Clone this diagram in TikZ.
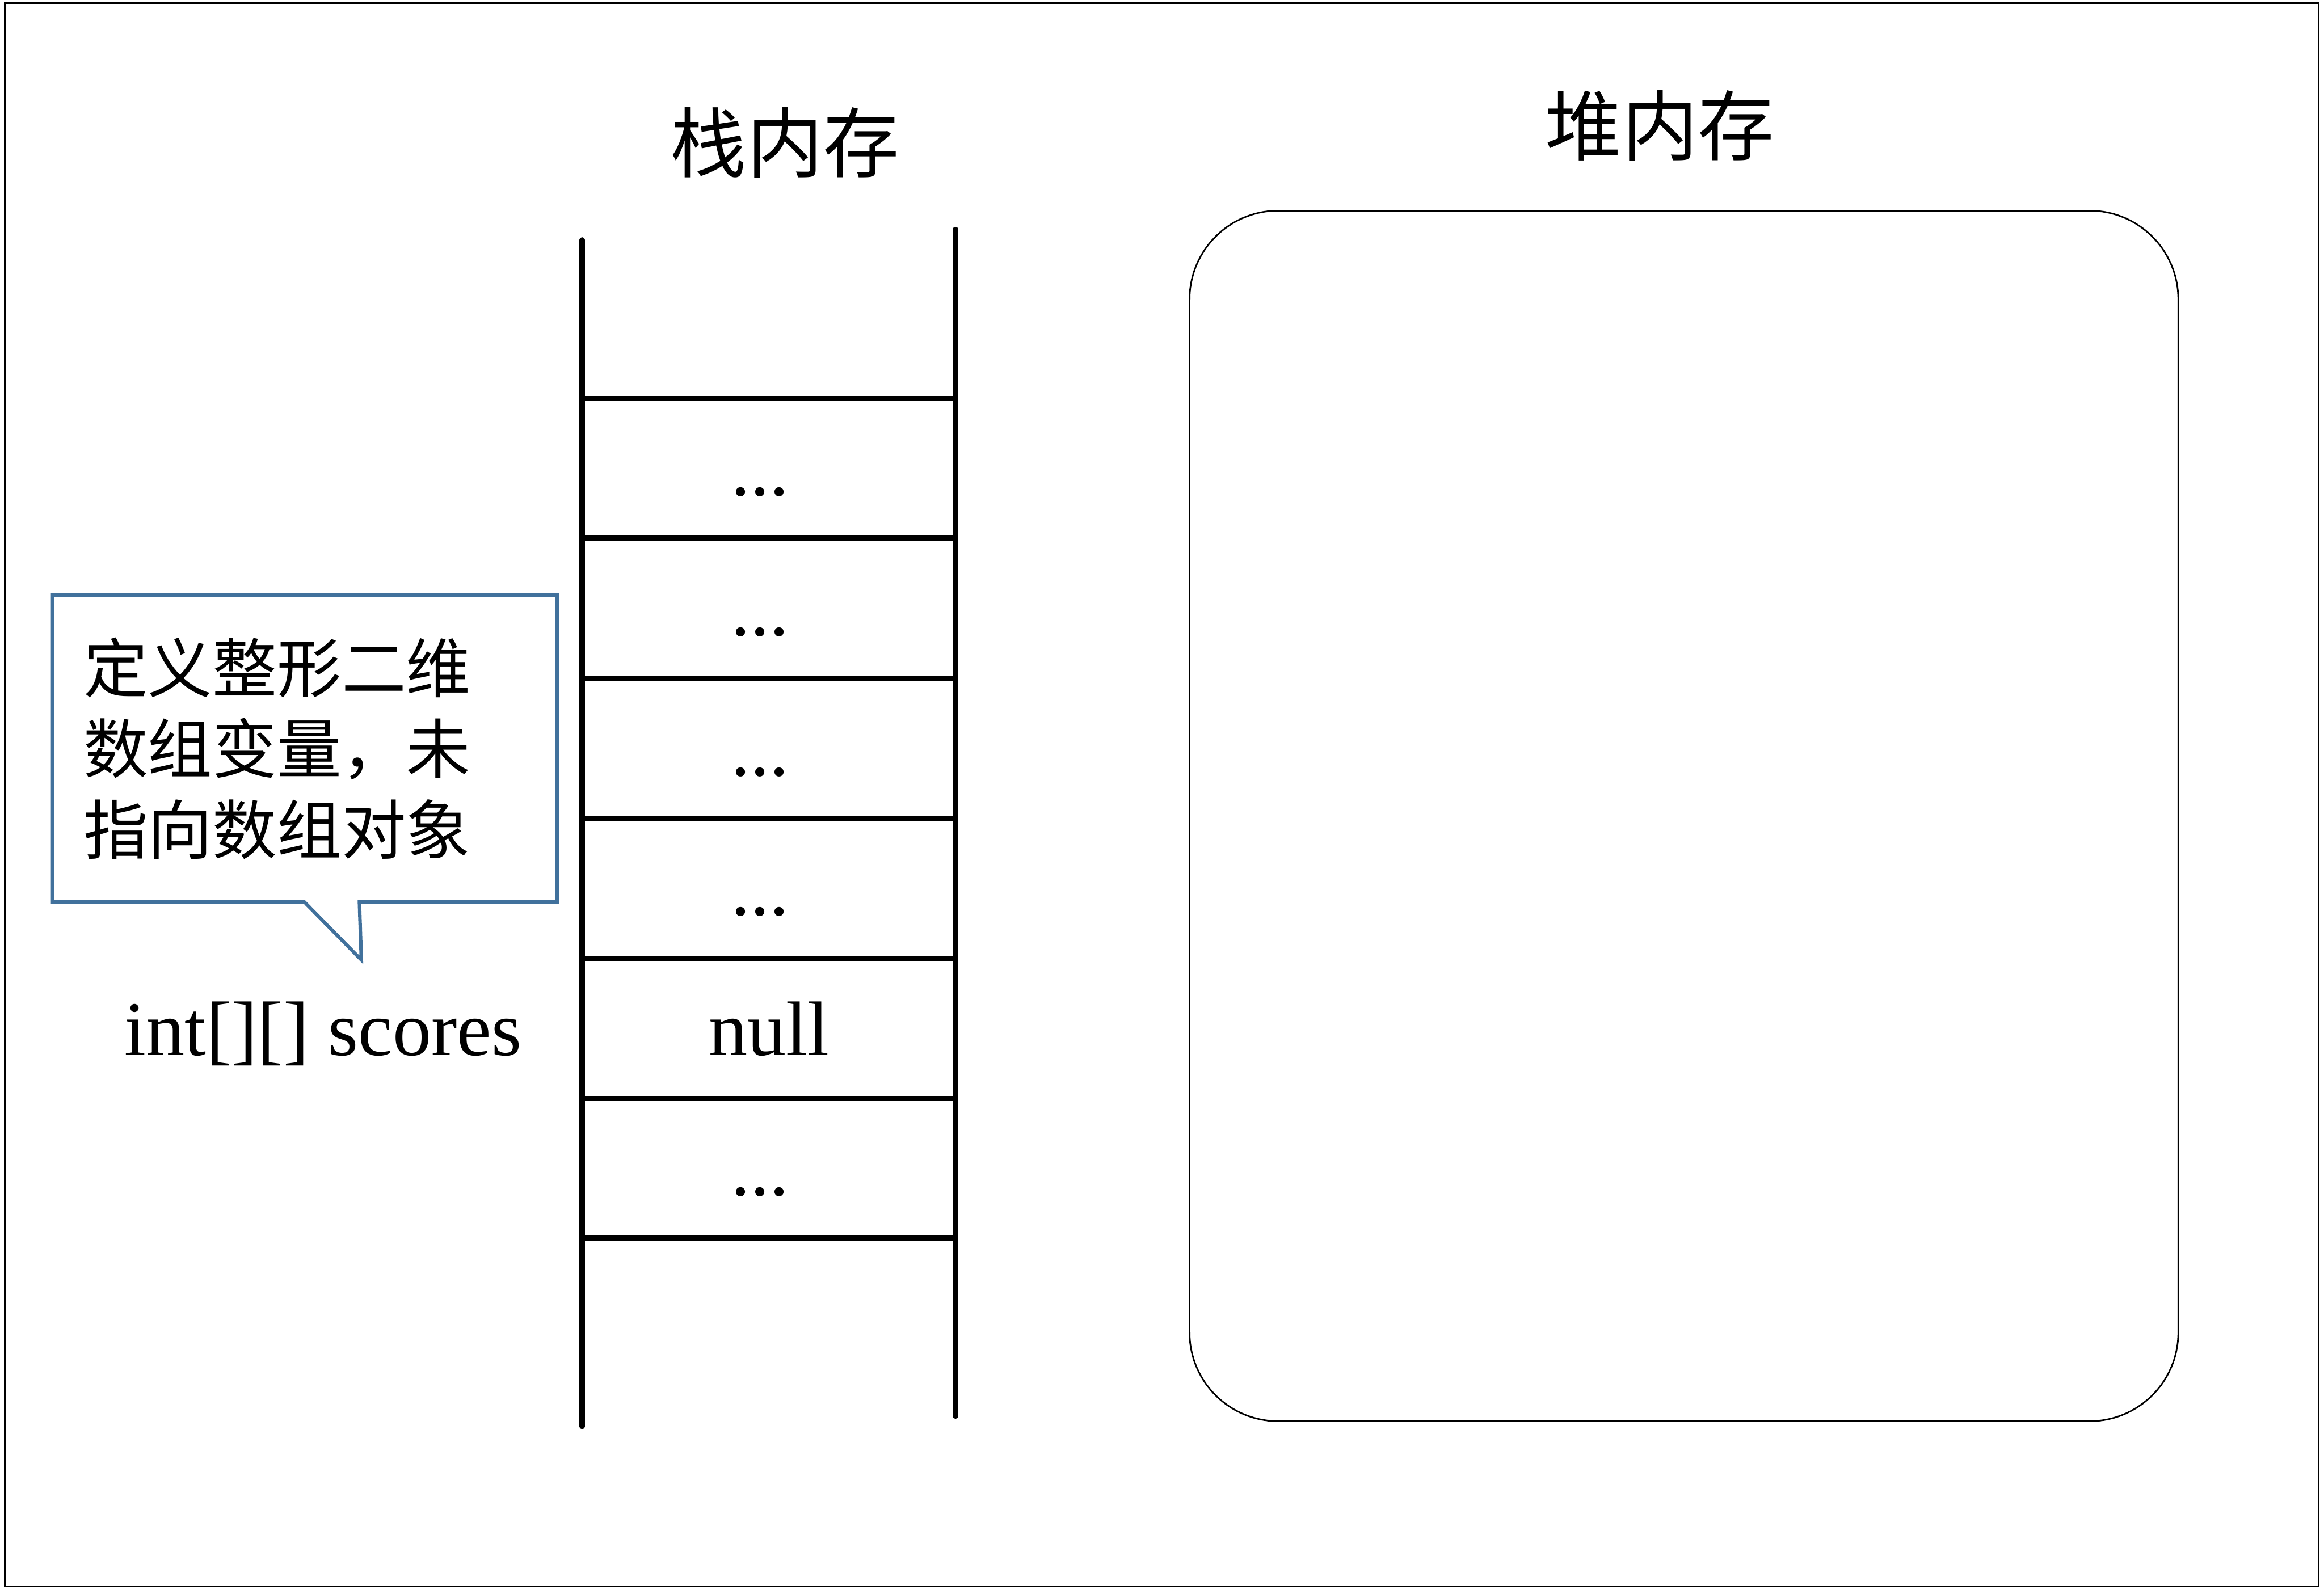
\documentclass[tikz,border=0pt]{standalone}
\usepackage{fontspec}
\setmainfont{Liberation Serif}
\newfontfamily\cjk{Noto Sans CJK SC}
\usepackage{xcolor}
\usetikzlibrary{positioning,calc}

\definecolor{notecol}{HTML}{41719C}

\begin{document}
\begin{tikzpicture}[
  font=\fontsize{44.7}{54}\selectfont,
  frame/.style={draw, line width=0.85pt},
  rail/.style={line width=3.1pt, line cap=round},
  cell/.style={minimum width=7.57cm, minimum height=2.83cm, inner sep=0pt, text height=1.1cm, text depth=0cm},
  label/.style={inner sep=0pt, text height=1.1cm, text depth=0cm},
  head/.style={font=\fontsize{44.1}{54}\selectfont\cjk},
  heap/.style={draw, line width=0.9pt, rounded corners=1.8cm, minimum width=20.08cm, minimum height=24.59cm},
  note/.style={text width=8.99cm, inner xsep=0.62cm, inner ysep=0pt, minimum height=6.22cm, align=left, font=\fontsize{37.3}{46.7}\selectfont\cjk},
  callout/.style={draw=notecol, line width=2pt, line join=miter}
]
\useasboundingbox (0,0) rectangle (47.20,-32.30);
\draw[frame] (0.10,-0.06) rectangle (47.09,-32.23);

% stack
\node[cell] (c1) at (15.615,-9.515) {...\kern0.36cm};
\node[cell, below=0cm of c1] (c2) {...\kern0.36cm};
\node[cell, below=0cm of c2] (c3) {...\kern0.36cm};
\node[cell, below=0cm of c3] (c4) {...\kern0.36cm};
\node[cell, below=0cm of c4] (c5) {null};
\node[cell, below=0cm of c5] (c6) {...\kern0.36cm};
\foreach \i in {1,...,6}
  \draw[rail] (c\i.north west) -- (c\i.north east);
\draw[rail] (c6.south west) -- (c6.south east);
\draw[rail] ($(c1.north west)+(0,3.22)$) -- ($(c6.south west)+(0,-3.82)$);
\draw[rail] ($(c1.north east)+(0,3.43)$) -- ($(c6.south east)+(0,-3.61)$);
\node[head] (stackhead) at (15.94,-2.90) {栈内存};

% heap
\node[heap] (heapbox) at (34.20,-16.575) {};
\node[head] (heaphead) at (33.71,-2.55) {堆内存};

% variable and its note
\node[label, left=1.22cm of c5] (decl) {int[][] scores};
\node[note, left=0.51cm of c3] (note) {定义整形二维\\数组变量，未\\指向数组对象};
\coordinate (tip) at ([xshift=6.27cm, yshift=-1.18cm]note.south west);
\draw[callout] (note.south west) -- (note.north west) -- (note.north east) -- (note.south east)
  -- ([xshift=6.23cm]note.south west) -- (tip) -- ([xshift=5.11cm]note.south west) -- cycle;
\end{tikzpicture}
\end{document}
